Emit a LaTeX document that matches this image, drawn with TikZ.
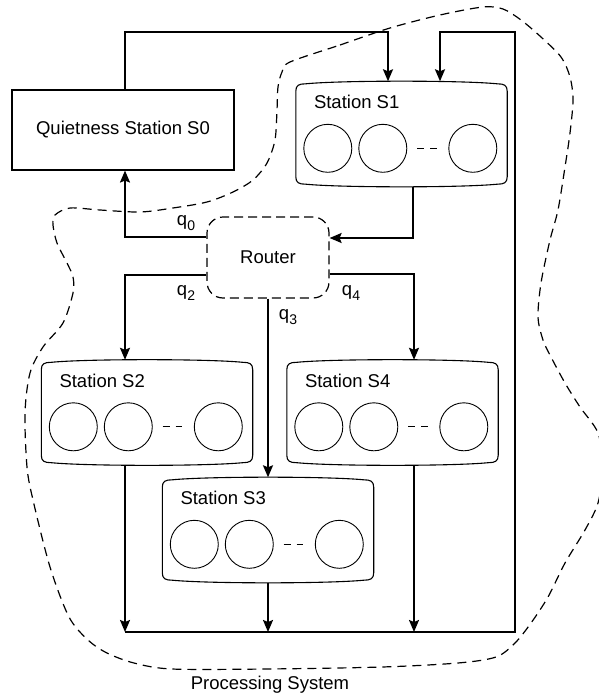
\documentclass[tikz,border=0pt]{standalone}
\usepackage{fontspec}
\setmainfont{Liberation Sans}
\usetikzlibrary{arrows.meta,calc}
\newcommand\stshape[1]{%
  \draw[boxln] ($(#1.north west)+(0,10)$)
    .. controls ($(#1.north west)+(0,4)$) and ($(#1.north west)+(3,2.5)$) .. ($(#1.north west)+(10,2.5)$)
    .. controls ($(#1.north)+(-60,-1)$) and ($(#1.north)+(60,-1)$) .. ($(#1.north east)+(-10,2.5)$)
    .. controls ($(#1.north east)+(-3,2.5)$) and ($(#1.north east)+(0,4)$) .. ($(#1.north east)+(0,10)$)
    -- ($(#1.south east)+(0,-10)$)
    .. controls ($(#1.south east)+(0,-4)$) and ($(#1.south east)+(-3,-2.5)$) .. ($(#1.south east)+(-10,-2.5)$)
    .. controls ($(#1.south)+(60,1)$) and ($(#1.south)+(-60,1)$) .. ($(#1.south west)+(10,-2.5)$)
    .. controls ($(#1.south west)+(3,-2.5)$) and ($(#1.south west)+(0,-4)$) .. ($(#1.south west)+(0,-10)$)
    -- cycle;}
\begin{document}
\begin{tikzpicture}[x=1pt,y=-1pt,
  every node/.style={font=\fontsize{18.5}{22}\selectfont},
  conn/.style={line width=1.8pt},
  arr/.style={conn,-{Stealth[length=12pt,width=10pt,inset=2pt]}},
  boxln/.style={line width=1.1pt},
  stbox/.style={minimum width=211pt,minimum height=105pt,inner sep=0pt},
  srv/.style={draw,circle,line width=0.9pt,minimum size=48pt,inner sep=0pt},
  lbl/.style={anchor=west,inner sep=0pt},
  bnd/.style={line width=1.2pt,dash pattern=on 9pt off 6pt},
  dots/.style={line width=1pt,dash pattern=on 7pt off 6pt},
  ql/.style={inner sep=0pt}]
\useasboundingbox (0,0) rectangle (598,696);

% Quietness station
\node[draw,line width=1.1pt,minimum width=222pt,minimum height=80pt,inner sep=0pt] (s0) at (123,130) {Quietness Station S0};

% Stations
\node[stbox] (s1) at (401.5,134) {};
\node[stbox] (s2) at (147,412.5) {};
\node[stbox] (s4) at (392.5,412.5) {};
\node[stbox] (s3) at (268,530) {};

\foreach \s/\t in {s1/S1,s2/S2,s3/S3,s4/S4}{
  \stshape{\s}
  \node[lbl] (\s t) at ($(\s.north west)+(18,21)$) {Station \t};
  \node[srv] (\s a) at ($(\s.north west)+(32,67)$) {};
  \node[srv] (\s b) at ($(\s.north west)+(87,67)$) {};
  \node[srv] (\s c) at ($(\s.north west)+(177,67)$) {};
  \draw[dots] ($(\s b.east)!0.24!(\s c.west)$) -- ($(\s b.east)!0.72!(\s c.west)$);
}

% Router
\node[draw,line width=1.2pt,dash pattern=on 9pt off 5pt,rounded corners=16pt,minimum width=122pt,minimum height=81pt] (r) at (268,257.5) {Router};

% corner coordinates
\coordinate (t1) at (125,32);
\coordinate (t2) at (388,32);
\coordinate (t3) at (440,32);
\coordinate (t4) at (515,32);
\coordinate (bL) at (125,632);
\coordinate (bR) at (515,632);
\coordinate (c3) at (413,238);
\coordinate (c4) at (125,237);
\coordinate (c5) at (125,275);
\coordinate (c7) at (414,274);

% connectors
\draw[arr] (t1 |- s0.north) -- (t1) -- (t2) -- (t2 |- s1.north);
\draw[arr] (bL) -- (bR) -- (t4) -- (t3) -- (t3 |- s1.north);
\draw[arr] (c3 |- s1.south) -- (c3) -- (c3 -| r.east);
\draw[arr] (r.west |- c4) -- (c4) -- (c4 |- s0.south);
\draw[arr] (r.west |- c5) -- (c5) -- (c5 |- s2.north);
\draw[arr] (r.south) -- (r.south |- s3.north);
\draw[arr] (r.east |- c7) -- (c7) -- (c7 |- s4.north);
\draw[arr] (c5 |- s2.south) -- (bL);
\draw[arr] (s3.south) -- (s3.south |- bL);
\draw[arr] (c7 |- s4.south) -- (c7 |- bL);

% queue labels
\node[ql] (q0) at (186,223) {q\raisebox{-0.45ex}{\fontsize{14}{14}\selectfont 0}};
\node[ql] (q2) at (186,293) {q\raisebox{-0.45ex}{\fontsize{14}{14}\selectfont 2}};
\node[ql] (q3) at (288,317) {q\raisebox{-0.45ex}{\fontsize{14}{14}\selectfont 3}};
\node[ql] (q4) at (351,293) {q\raisebox{-0.45ex}{\fontsize{14}{14}\selectfont 4}};

% processing system boundary
\draw[bnd] plot[smooth cycle, tension=0.5] coordinates {
(290,62) (340,45) (390,28) (440,15) (483,7) (503,9) (521,20) (541,37) (561,57)
(570,77) (573,100) (570,133) (565,167) (558,210) (550,240) (541,283) (538,317)
(543,340) (551,357) (565,383) (580,407) (598,433) (603,468) (598,503) (585,530)
(565,563) (548,597) (531,623) (515,643) (496,657) (458,663) (382,667) (267,669)
(172,669) (134,663) (107,653) (88,640) (69,617) (50,567) (33,500) (27,467)
(25,413) (30,373) (43,347) (63,323) (73,293) (73,277) (67,263) (57,243) (53,225)
(55,215) (70,208) (100,210) (140,212) (173,208) (207,202) (233,192) (253,180)
(267,163) (275,140) (277,110) (278,87) (282,72)};

\node (ps) at (270,685) {Processing System};
\end{tikzpicture}
\end{document}
